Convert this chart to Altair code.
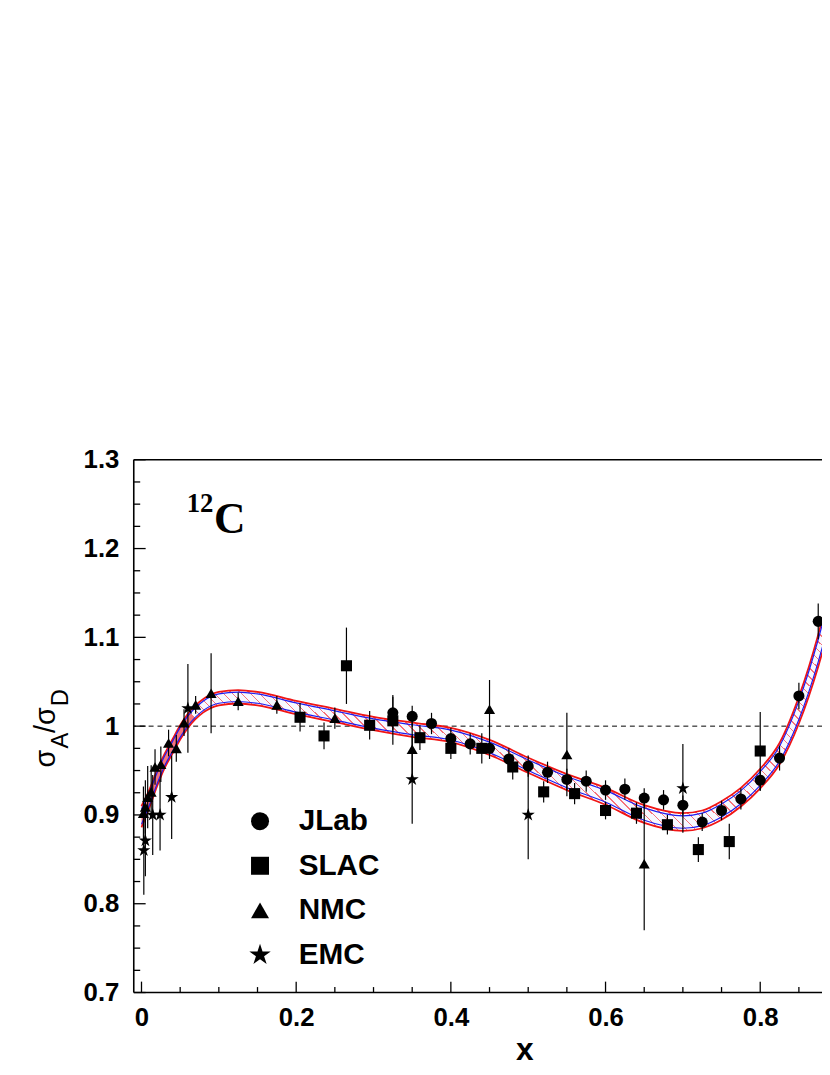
import altair as alt
import pandas as pd

# ---------------- data ----------------
band_x = [0.0, 0.01, 0.02, 0.03, 0.04, 0.05, 0.06, 0.08, 0.10, 0.125, 0.15, 0.20, 0.25, 0.30,
          0.35, 0.40, 0.45, 0.50, 0.55, 0.60, 0.65, 0.70, 0.725, 0.75, 0.775, 0.80, 0.825,
          0.85, 0.875, 0.90]
band_mid = [0.898, 0.918, 0.941, 0.961, 0.977, 0.993, 1.006, 1.023, 1.031, 1.033, 1.031, 1.021,
            1.012, 1.003, 0.996, 0.990, 0.976, 0.956, 0.937, 0.921, 0.901, 0.892, 0.895, 0.905,
            0.920, 0.941, 0.969, 1.018, 1.085, 1.170]
band_err = [0.012, 0.010, 0.009, 0.008, 0.008, 0.008, 0.008, 0.0075, 0.0075, 0.0075, 0.0075,
            0.0075, 0.0075, 0.0075, 0.008, 0.008, 0.0085, 0.0085, 0.009, 0.0095, 0.010, 0.010,
            0.010, 0.0105, 0.0105, 0.011, 0.012, 0.015, 0.018, 0.022]

jlab_x = [0.325, 0.35, 0.375, 0.40, 0.425, 0.45, 0.475, 0.50, 0.525, 0.55, 0.575, 0.60, 0.625,
          0.65, 0.675, 0.70, 0.725, 0.75, 0.775, 0.80, 0.825, 0.85, 0.875]
jlab_y = [1.015, 1.011, 1.003, 0.986, 0.980, 0.975, 0.963, 0.955, 0.948, 0.940, 0.938, 0.928,
          0.929, 0.919, 0.917, 0.911, 0.892, 0.905, 0.918, 0.939, 0.964, 1.034, 1.118]
jlab_e = [0.020, 0.012, 0.012, 0.012, 0.012, 0.012, 0.012, 0.012, 0.012, 0.012, 0.012, 0.011,
          0.012, 0.011, 0.011, 0.011, 0.010, 0.011, 0.012, 0.012, 0.014, 0.015, 0.020]

slac_x = [0.205, 0.236, 0.265, 0.295, 0.325, 0.36, 0.40, 0.44, 0.48, 0.52, 0.56, 0.60, 0.64,
          0.68, 0.72, 0.76, 0.80]
slac_y = [1.010, 0.989, 1.068, 1.001, 1.006, 0.987, 0.975, 0.975, 0.954, 0.926, 0.924, 0.905,
          0.902, 0.889, 0.861, 0.870, 0.972]
slac_e = [0.016, 0.015, 0.043, 0.016, 0.027, 0.014, 0.012, 0.017, 0.014, 0.012, 0.012, 0.010,
          0.012, 0.011, 0.014, 0.020, 0.044]

nmc_x = [0.0025, 0.005, 0.008, 0.0125, 0.0175, 0.025, 0.035, 0.045, 0.055, 0.07, 0.09, 0.125,
         0.175, 0.25, 0.35, 0.45, 0.55, 0.65]
nmc_y = [0.902, 0.909, 0.920, 0.926, 0.954, 0.957, 0.981, 0.975, 1.004, 1.024, 1.037, 1.028,
         1.024, 1.009, 0.974, 1.019, 0.968, 0.845]
nmc_e = [0.030, 0.030, 0.035, 0.030, 0.020, 0.020, 0.015, 0.015, 0.015, 0.010, 0.045, 0.010,
         0.010, 0.012, 0.030, 0.033, 0.047, 0.075]

emc_x = [0.003, 0.005, 0.0145, 0.024, 0.039, 0.06, 0.35, 0.50, 0.70]
emc_y = [0.860, 0.871, 0.900, 0.900, 0.920, 1.020, 0.940, 0.900, 0.930]
emc_e = [0.050, 0.040, 0.045, 0.040, 0.047, 0.050, 0.050, 0.050, 0.050]

series_names = ["JLab", "SLAC", "NMC", "EMC"]

x_major = [0.0, 0.2, 0.4, 0.6, 0.8]
x_minor = [0.05, 0.1, 0.15, 0.25, 0.3, 0.35, 0.45, 0.5, 0.55, 0.65, 0.7, 0.75, 0.85]
y_major = [0.7, 0.8, 0.9, 1.0, 1.1, 1.2, 1.3]
y_minor = [0.725, 0.75, 0.775, 0.825, 0.85, 0.875, 0.925, 0.95, 0.975, 1.025, 1.05, 1.075,
           1.125, 1.15, 1.175, 1.225, 1.25, 1.275]

# ---------------- tables ----------------
band = pd.DataFrame({"x": band_x, "mid": band_mid, "err": band_err})
rows = []
for name, xs, ys, es in [("JLab", jlab_x, jlab_y, jlab_e), ("SLAC", slac_x, slac_y, slac_e),
                         ("NMC", nmc_x, nmc_y, nmc_e), ("EMC", emc_x, emc_y, emc_e)]:
    for a, b, c in zip(xs, ys, es):
        rows.append({"x": a, "y": b, "e": c, "series": name})
pts = pd.DataFrame(rows)

# plot area: left edge at page x 134.7, top at 459.3; it runs to the page's right edge
W, H = 695, 538
XMAX = -0.01 + W / 781.0
FONT = "Liberation Sans"
STAR = ("M0,-1.25L0.281,-0.386L1.189,-0.386L0.454,0.148L0.735,1.011L0,0.478"
        "L-0.735,1.011L-0.454,0.148L-1.189,-0.386L-0.281,-0.386Z")

xscale = alt.Scale(domain=[-0.01, XMAX], nice=False, zero=False)
yscale = alt.Scale(domain=[0.7, 1.3], nice=False, zero=False)
xaxis = alt.Axis(values=x_major, format="~g", labelFont=FONT, labelFontWeight="bold",
                 labelFontSize=26, labelColor="black", ticks=False, tickSize=0, domain=False,
                 grid=False, labelPadding=12, labelFlush=False, title="x", titleFont=FONT,
                 titleFontSize=32, titleFontWeight="bold", titleColor="black", titleX=394.3,
                 titleY=68, titleBaseline="alphabetic", titleAlign="center")
yaxis = alt.Axis(values=y_major, format="~g", labelFont=FONT, labelFontWeight="bold",
                 labelFontSize=26, labelColor="black", ticks=False, tickSize=0, domain=False,
                 grid=False, labelPadding=15, title=None)


def X(f):
    return alt.X(f, type="quantitative", scale=xscale, axis=xaxis)


def Y(f):
    return alt.Y(f, type="quantitative", scale=yscale, axis=yaxis)


def stripes(color, n, frac):
    stops = []
    for i in range(n):
        a = i / n
        b = (i + frac) / n
        c = (i + 1) / n
        stops += [alt.GradientStop(offset=a, color=color), alt.GradientStop(offset=b, color=color),
                  alt.GradientStop(offset=b, color="white"), alt.GradientStop(offset=c, color="white")]
    return alt.LinearGradient(gradient="linear", stops=stops, x1=0, y1=0.405, x2=1, y2=0)


unity = alt.Chart(pd.DataFrame({"y": [1.0]})).mark_rule(
    color="black", strokeWidth=1, strokeDash=[5, 4]).encode(y=Y("y"))

bandbase = alt.Chart(band).transform_calculate(
    rlo="datum.mid - datum.err", rhi="datum.mid + datum.err",
    blo="datum.mid - 0.7*datum.err", bhi="datum.mid + 0.7*datum.err")

red_area = bandbase.mark_area(fill=stripes("#ff7070", 90, 0.17), interpolate="monotone",
                              clip=True).encode(x=X("x"), y=Y("rlo"), y2="rhi")
blue_area = bandbase.mark_area(color="#9aa4ff", opacity=0.08, interpolate="monotone",
                               clip=True).encode(x=X("x"), y=Y("blo"), y2="bhi")
red_hi = bandbase.mark_line(color="#f01515", strokeWidth=1.8, interpolate="monotone",
                            clip=True).encode(x=X("x"), y=Y("rhi"))
red_lo = bandbase.mark_line(color="#f01515", strokeWidth=1.8, interpolate="monotone",
                            clip=True).encode(x=X("x"), y=Y("rlo"))
blue_hi = bandbase.mark_line(color="#1e1ef0", strokeWidth=1.2, interpolate="monotone",
                             clip=True).encode(x=X("x"), y=Y("bhi"))
blue_lo = bandbase.mark_line(color="#1e1ef0", strokeWidth=1.2, interpolate="monotone",
                             clip=True).encode(x=X("x"), y=Y("blo"))

errbars = alt.Chart(pts).transform_calculate(
    lo="datum.y - datum.e", hi="datum.y + datum.e").mark_rule(
    color="black", strokeWidth=1.2).encode(x=X("x"), y=Y("lo"), y2="hi")

points = alt.Chart(pts).mark_point(filled=True, size=125, color="black", opacity=1).encode(
    x=X("x"), y=Y("y"),
    shape=alt.Shape("series:N",
                    scale=alt.Scale(domain=series_names,
                                    range=["circle", "square", "triangle-up", STAR]),
                    legend=alt.Legend(title=None, orient="none", legendX=112.5, legendY=350,
                                      labelFont=FONT, labelFontSize=30, labelFontWeight="bold",
                                      labelColor="black", symbolSize=330,
                                      symbolFillColor="black", symbolStrokeColor="black",
                                      symbolStrokeWidth=0, rowPadding=15, labelOffset=24,
                                      padding=0)))

xt_major = alt.Chart(pd.DataFrame({"x": x_major})).mark_rule(color="black", strokeWidth=1.3).encode(
    x=X("x"), y=alt.value(H), y2=alt.value(H - 11))
xt_minor = alt.Chart(pd.DataFrame({"x": x_minor})).mark_rule(color="black", strokeWidth=1.3).encode(
    x=X("x"), y=alt.value(H), y2=alt.value(H - 5.5))
yt_major = alt.Chart(pd.DataFrame({"y": y_major})).mark_rule(color="black", strokeWidth=1.3).encode(
    y=Y("y"), x=alt.value(0), x2=alt.value(12))
yt_minor = alt.Chart(pd.DataFrame({"y": y_minor})).mark_rule(color="black", strokeWidth=1.3).encode(
    y=Y("y"), x=alt.value(0), x2=alt.value(6.5))

one = pd.DataFrame({"k": [0]})

frame_top = alt.Chart(one).mark_rule(color="black", strokeWidth=1.6).encode(
    x=alt.value(0), x2=alt.value(W + 2), y=alt.value(0))
frame_bottom = alt.Chart(one).mark_rule(color="black", strokeWidth=1.6).encode(
    x=alt.value(0), x2=alt.value(W + 2), y=alt.value(H))
frame_left = alt.Chart(one).mark_rule(color="black", strokeWidth=1.6).encode(
    x=alt.value(0), y=alt.value(0), y2=alt.value(H))


def label(txt, x, y, size, font=FONT, weight="normal", angle=0, align="left"):
    return alt.Chart(one).mark_text(text=txt, font=font, fontSize=size, fontWeight=weight,
                                    angle=angle, align=align, baseline="alphabetic",
                                    color="black").encode(x=alt.value(x), y=alt.value(y))


nucleus_a = label("12", 80.5, 52.7, 27, font="Liberation Serif", weight="bold", align="right")
nucleus_c = label("C", 81, 73.7, 44, font="Liberation Serif", weight="bold")

yt1 = label("\u03c3", -79.7, 310.7, 29, angle=270)
yt2 = label("A", -66.7, 291.5, 24, angle=270)
yt3 = label("/\u03c3", -79.7, 276, 29, angle=270)
yt4 = label("D", -66.7, 249, 24, angle=270)

chart = alt.layer(
    unity, red_area, blue_area, red_hi, red_lo, blue_hi, blue_lo,
    errbars, points, xt_major, xt_minor, yt_major, yt_minor,
    frame_top, frame_bottom, frame_left,
    nucleus_a, nucleus_c, yt1, yt2, yt3, yt4,
).properties(
    width=W, height=H,
    autosize=alt.AutoSizeParams(type="none"),
    padding={"left": 127, "top": 451, "right": 0, "bottom": 70},
    background="white",
).configure_view(strokeWidth=0)

chart.save("out.html", embed_options={"renderer": "svg", "actions": False})
